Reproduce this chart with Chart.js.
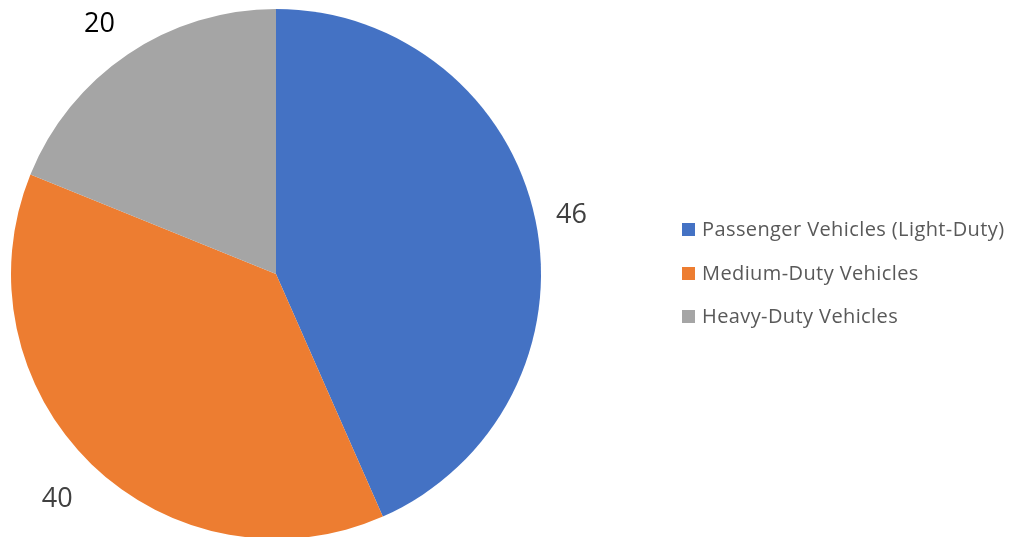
<!DOCTYPE html>
<html>
<head>
<meta charset="utf-8">
<script src="https://cdn.jsdelivr.net/npm/chart.js@4.4.1/dist/chart.umd.min.js"></script>
<style>
  html, body { margin: 0; padding: 0; background: #fff; overflow: hidden; }
  #wrap { position: relative; width: 1011px; height: 548px; }
  #legend { position: absolute; left: 682px; top: 216px; font-family: "Open Sans", sans-serif; font-size: 20px; letter-spacing: 0.4px; color: #595959; }
  #legend .item { height: 43.5px; display: flex; align-items: flex-start; white-space: nowrap; }
  #legend .box { width: 13px; height: 13px; margin-top: 7px; margin-right: 7px; flex: none; }
  #legend span { line-height: 26px; }
</style>
</head>
<body>
<div id="wrap">
  <canvas id="myChart" width="1011" height="548"></canvas>
  <div id="legend"></div>
</div>
<script>
    "use strict";
    let categories = ['Passenger Vehicles (Light-Duty)', 'Medium-Duty Vehicles', 'Heavy-Duty Vehicles']
    let values = [46, 40, 20]
    let colors = ['#4472C4', '#ED7D31', '#A5A5A5']
    let labelColors = ['#404040', '#404040', '#000000']

    // value labels outside each slice
    const outsideLabels = {
        id: 'outsideLabels',
        afterDatasetsDraw(chart) {
            const ctx = chart.ctx
            const meta = chart.getDatasetMeta(0)
            ctx.save()
            ctx.font = '27px "Open Sans", sans-serif'
            ctx.textAlign = 'center'
            ctx.textBaseline = 'middle'
            meta.data.forEach((arc, i) => {
                const p = arc.getProps(['x', 'y', 'startAngle', 'endAngle', 'outerRadius'], true)
                const mid = (p.startAngle + p.endAngle) / 2
                const d = p.outerRadius + 42
                ctx.fillStyle = labelColors[i]
                ctx.fillText(String(values[i]), p.x + Math.cos(mid) * d - 5, p.y + Math.sin(mid) * d + 5)
            })
            ctx.restore()
        }
    }

    var ctx = document.getElementById('myChart').getContext('2d');
    var chart = new Chart(ctx, {
        type: 'pie',
        data: {
            labels: categories,
            datasets: [{
                data: values,
                backgroundColor: colors,
                borderWidth: 0
            }]
        },
        options: {
            responsive: false,
            animation: false,
            layout: {
                padding: { top: 9, bottom: 9, left: 11, right: 470 }
            },
            plugins: {
                legend: { display: false },
                tooltip: { enabled: false }
            }
        },
        plugins: [outsideLabels]
    });

    // legend
    let legend = document.getElementById('legend')
    categories.forEach((c, i) => {
        let item = document.createElement('div')
        item.className = 'item'
        let box = document.createElement('div')
        box.className = 'box'
        box.style.background = colors[i]
        let txt = document.createElement('span')
        txt.textContent = c
        item.appendChild(box)
        item.appendChild(txt)
        legend.appendChild(item)
    })
</script>
</body>
</html>
